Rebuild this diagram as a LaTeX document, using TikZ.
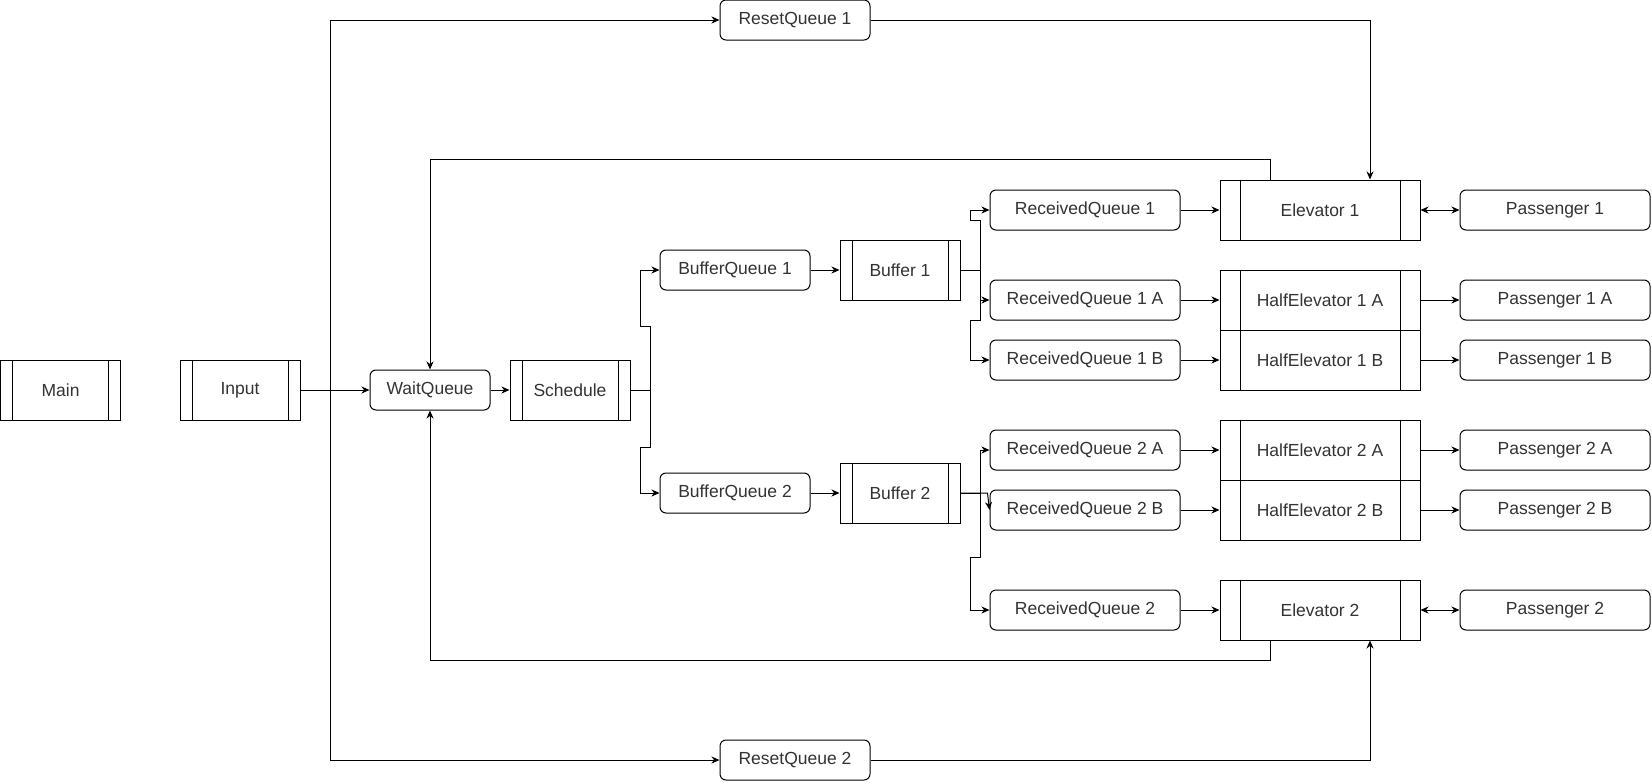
\documentclass[tikz,border=0pt]{standalone}
\usepackage{fontspec}
\setmainfont{Liberation Sans}
\usetikzlibrary{arrows.meta}
\begin{document}
\begin{tikzpicture}[x=1pt,y=-1pt,
  font=\fontsize{17.5}{21}\selectfont,
  every node/.style={text=black!80, line width=1pt},
  qbox/.style={draw, fill=white, rounded corners=6pt, minimum width=#1, minimum height=40pt, inner sep=0pt},
  proc/.style={draw, fill=white, rectangle, minimum width=#1, minimum height=60pt, inner sep=0pt,
    path picture={
      \draw[line width=1pt] ([xshift=0.1*#1]path picture bounding box.north west) -- ([xshift=0.1*#1]path picture bounding box.south west);
      \draw[line width=1pt] ([xshift=-0.1*#1]path picture bounding box.north east) -- ([xshift=-0.1*#1]path picture bounding box.south east);}},
  conn/.style={draw, line width=1pt},
  arr/.style={conn, -{Stealth[length=8pt,width=7pt,inset=2.5pt]}},
  darr/.style={conn, {Stealth[length=8pt,width=7pt,inset=2.5pt]}-{Stealth[length=8pt,width=7pt,inset=2.5pt]}}
]
\useasboundingbox (0,0) rectangle (1652,782);

% left column
\node[proc=120pt] (main) at (60.6,390) {Main};
\node[proc=120pt] (input) at (240,390) {Input};
\node[qbox=120pt] (wq) at (430,390) {WaitQueue};
\node[proc=120pt] (sched) at (570,390) {Schedule};

\node[qbox=150pt] (rs1) at (795,20) {ResetQueue 1};
\node[qbox=150pt] (rs2) at (795,760) {ResetQueue 2};

\node[qbox=150pt] (bq1) at (735,270) {BufferQueue 1};
\node[qbox=150pt] (bq2) at (735,493) {BufferQueue 2};
\node[proc=120pt] (buf1) at (900,270) {Buffer 1};
\node[proc=120pt] (buf2) at (900,493) {Buffer 2};

\node[qbox=190pt] (rq1) at (1085,210) {ReceivedQueue 1};
\node[qbox=190pt] (rq1a) at (1085,300) {ReceivedQueue 1 A};
\node[qbox=190pt] (rq1b) at (1085,360) {ReceivedQueue 1 B};
\node[qbox=190pt] (rq2a) at (1085,450) {ReceivedQueue 2 A};
\node[qbox=190pt] (rq2b) at (1085,510) {ReceivedQueue 2 B};
\node[qbox=190pt] (rq2) at (1085,610) {ReceivedQueue 2};

\node[proc=200pt] (el1) at (1320,210) {Elevator 1};
\node[proc=200pt] (he1a) at (1320,300) {HalfElevator 1 A};
\node[proc=200pt] (he1b) at (1320,360) {HalfElevator 1 B};
\node[proc=200pt] (he2a) at (1320,450) {HalfElevator 2 A};
\node[proc=200pt] (he2b) at (1320,510) {HalfElevator 2 B};
\node[proc=200pt] (el2) at (1320,610) {Elevator 2};

\node[qbox=190pt] (p1) at (1555,210) {Passenger 1};
\node[qbox=190pt] (p1a) at (1555,300) {Passenger 1 A};
\node[qbox=190pt] (p1b) at (1555,360) {Passenger 1 B};
\node[qbox=190pt] (p2a) at (1555,450) {Passenger 2 A};
\node[qbox=190pt] (p2b) at (1555,510) {Passenger 2 B};
\node[qbox=190pt] (p2) at (1555,610) {Passenger 2};

% connectors
\coordinate (fk) at (330,390);
\draw[arr] (input.east) -- (wq.west);
\draw[arr] (fk) |- (rs1.west);
\draw[arr] (fk) |- (rs2.west);
\draw[arr] (rs1.east) -| ([xshift=50pt]el1.north);
\draw[arr] (rs2.east) -| ([xshift=50pt]el2.south);
\draw[arr] ([xshift=-50pt]el1.north) -- ++(0,-20) -| (wq.north);
\draw[arr] ([xshift=-50pt]el2.south) -- ++(0,20) -| (wq.south);
\draw[arr] (wq.east) -- (sched.west);

\draw[arr] (sched.east) -- ++(20,0) -- ++(0,-64) -- ++(-10,0) |- (bq1.west);
\draw[arr] (sched.east) -- ++(20,0) -- ++(0,57) -- ++(-10,0) |- (bq2.west);
\draw[arr] (bq1.east) -- (buf1.west);
\draw[arr] (bq2.east) -- (buf2.west);

\draw[arr] (buf1.east) -- ++(20,0) -- ++(0,-50) -- ++(-10,0) |- (rq1.west);
\draw[arr] (buf1.east) -- ++(20,0) |- (rq1a.west);
\draw[arr] (buf1.east) -- ++(20,0) -- ++(0,50) -- ++(-10,0) |- (rq1b.west);

\draw[arr] (buf2.east) -- ++(20,0) |- (rq2a.west);
\draw[arr] (buf2.east) -- ++(27,0) -- (rq2b.west);
\draw[arr] (buf2.east) -- ++(20,0) -- ++(0,64) -- ++(-10,0) |- (rq2.west);

\draw[arr] (rq1.east) -- (el1.west);
\draw[arr] (rq1a.east) -- (he1a.west);
\draw[arr] (rq1b.east) -- (he1b.west);
\draw[arr] (rq2a.east) -- (he2a.west);
\draw[arr] (rq2b.east) -- (he2b.west);
\draw[arr] (rq2.east) -- (el2.west);

\draw[darr] (el1.east) -- (p1.west);
\draw[arr] (he1a.east) -- (p1a.west);
\draw[arr] (he1b.east) -- (p1b.west);
\draw[arr] (he2a.east) -- (p2a.west);
\draw[arr] (he2b.east) -- (p2b.west);
\draw[darr] (el2.east) -- (p2.west);
\end{tikzpicture}
\end{document}
